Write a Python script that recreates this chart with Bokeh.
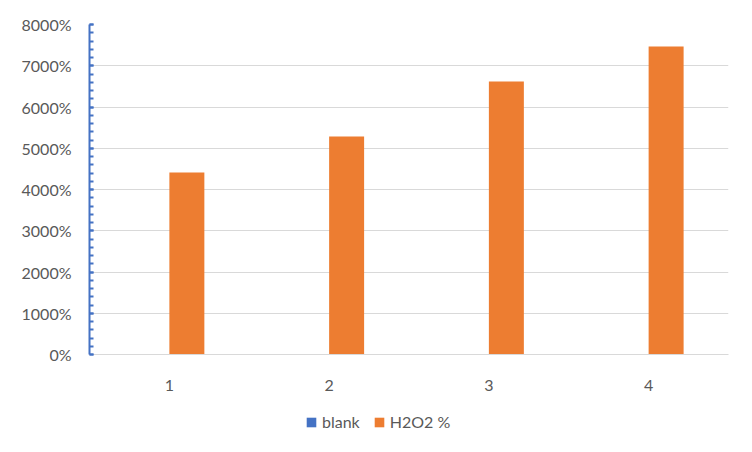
from bokeh.plotting import figure
from bokeh.layouts import column
from bokeh.models import ColumnDataSource, FactorRange, Range1d, SingleIntervalTicker, NumeralTickFormatter, Legend, LegendItem
from bokeh.transform import dodge
from bokeh.embed import file_html
from bokeh.resources import INLINE

categories = ["1", "2", "3", "4"]
blank = [0, 0, 0, 0]
h2o2 = [44.1, 52.85, 66.2, 74.65]
series_names = ["blank", "H2O2 %"]
series_colors = ["#4472C4", "#ED7D31"]

src = ColumnDataSource(dict(cat=categories, blank=blank, h2o2=h2o2))

FONT = "Lato"
GREY = "#595959"

p = figure(x_range=FactorRange(*categories, range_padding=0),
           y_range=Range1d(0, 80), output_backend="svg", toolbar_location=None,
           frame_width=639, frame_height=330,
           min_border_left=89, min_border_right=24, min_border_top=24, min_border_bottom=46)
p.outline_line_color = None

bw = 0.219
p.vbar(x=dodge("cat", -bw / 2, range=p.x_range), top="blank", width=bw, source=src,
       fill_color=series_colors[0], line_color=None)
p.vbar(x=dodge("cat", bw / 2, range=p.x_range), top="h2o2", width=bw, source=src,
       fill_color=series_colors[1], line_color=None)

p.xgrid.grid_line_color = None
p.ygrid.grid_line_color = "#D9D9D9"
p.ygrid.grid_line_width = 1

yax = p.yaxis[0]
yax.ticker = SingleIntervalTicker(interval=10, num_minor_ticks=5)
yax.formatter = NumeralTickFormatter(format="0%")
yax.axis_line_color = "#4472C4"
yax.axis_line_width = 2
yax.major_tick_line_color = "#4472C4"
yax.minor_tick_line_color = "#4472C4"
yax.major_tick_line_width = 2
yax.minor_tick_line_width = 2
yax.major_tick_in = 4
yax.major_tick_out = 0
yax.minor_tick_in = 4
yax.minor_tick_out = 0
yax.major_label_text_font = FONT
yax.major_label_text_font_size = "16px"
yax.major_label_text_color = GREY
yax.major_label_standoff = 18

xax = p.xaxis[0]
xax.axis_line_color = "#D9D9D9"
xax.axis_line_width = 1
xax.major_tick_line_color = None
xax.minor_tick_line_color = None
xax.major_label_text_font = FONT
xax.major_label_text_font_size = "16px"
xax.major_label_text_color = GREY
xax.major_label_standoff = 19

# legend strip below the chart (its frame is aligned with the chart frame by the column)
lf = figure(width=752, height=52, x_range=FactorRange(*categories), y_range=Range1d(1000, 1001),
            output_backend="svg", toolbar_location=None,
            x_axis_location=None, y_axis_location=None,
            min_border_left=0, min_border_right=0, min_border_top=0, min_border_bottom=0)
lf.outline_line_color = None
lf.grid.grid_line_color = None
l1 = lf.vbar(x="cat", top="blank", width=0.5, source=src, fill_color=series_colors[0], line_color=None)
l2 = lf.vbar(x="cat", top="h2o2", width=0.5, source=src, fill_color=series_colors[1], line_color=None)

legend = Legend(items=[LegendItem(label=series_names[0], renderers=[l1]),
                       LegendItem(label=series_names[1], renderers=[l2])],
                orientation="horizontal", location=(216, 21))
legend.border_line_color = None
legend.background_fill_alpha = 0
legend.label_text_font = FONT
legend.label_text_font_size = "16px"
legend.label_text_color = GREY
legend.glyph_width = 12
legend.glyph_height = 12
legend.spacing = 13
legend.label_standoff = 5
legend.padding = 0
legend.margin = 0
lf.add_layout(legend, "center")

layout = column(p, lf, spacing=0)
open("out.html", "w").write(file_html(layout, INLINE))
